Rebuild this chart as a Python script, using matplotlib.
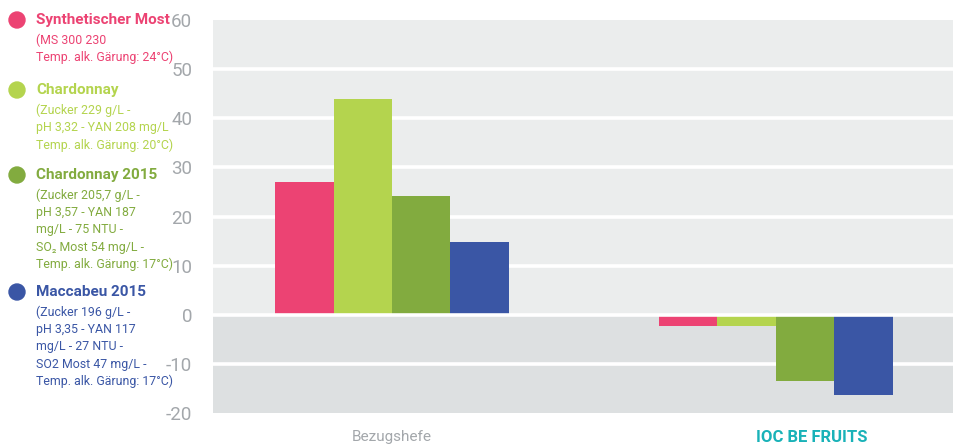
import matplotlib
matplotlib.use("Agg")
import matplotlib.pyplot as plt
import matplotlib.transforms as mtransforms
from matplotlib.patches import Ellipse
import numpy as np
from matplotlib.font_manager import fontManager

names = {f.name for f in fontManager.ttflist}
narrow = "Liberation Sans Narrow" if "Liberation Sans Narrow" in names else "Roboto"
FAM = [narrow, "DejaVu Sans"]

categories = ["Bezugshefe", "IOC BE FRUITS"]
series_names = ["Synthetischer Most", "Chardonnay", "Chardonnay 2015", "Maccabeu 2015"]
series_desc = [
    ["(MS 300 230", "Temp. alk. Gärung: 24°C)"],
    ["(Zucker 229 g/L -", "pH 3,32 - YAN 208 mg/L", "Temp. alk. Gärung: 20°C)"],
    ["(Zucker 205,7 g/L -", "pH 3,57 - YAN 187", "mg/L - 75 NTU -", "SO₂ Most 54 mg/L -", "Temp. alk. Gärung: 17°C)"],
    ["(Zucker 196 g/L -", "pH 3,35 - YAN 117", "mg/L - 27 NTU -", "SO2 Most 47 mg/L -", "Temp. alk. Gärung: 17°C)"],
]
values = [
    [27.1, -2.2],
    [44.0, -2.2],
    [24.2, -13.4],
    [14.9, -16.3],
]
yticks = [60, 50, 40, 30, 20, 10, 0, -10, -20]
colors = ["#ec4373", "#b4d44e", "#82ab3f", "#3a56a5"]

W, H = 954, 444
fig = plt.figure(figsize=(W / 100, H / 100), dpi=100)
fig.patch.set_facecolor("white")
ax = fig.add_axes([213 / W, 1 - 413 / H, (954 - 213) / W, (413 - 20) / H])
ax.set_facecolor("#ebeded")
ax.axhspan(-20, 0, color="#dde0e1", zorder=0, lw=0)
for y in yticks[1:-1]:
    ax.axhline(y, color="white", lw=2.6, zorder=3 if y == 0 else 1)

x = np.arange(len(categories))
bw = 0.152
for i, (vals, c) in enumerate(zip(values, colors)):
    ax.bar(x + (i - 1.5) * bw, vals, bw, color=c, zorder=2, lw=0)

ax.set_xlim(-0.466, 1.464)
ax.set_ylim(-20, 60)
for s in ax.spines.values():
    s.set_visible(False)
ax.set_yticks(yticks)
ax.set_yticklabels([str(v) for v in yticks], fontsize=13.5, color="#a3a7ab", family=FAM)
ax.tick_params(axis="y", length=0, pad=15)
ax.set_xticks(x)
ax.set_xticklabels(categories, fontsize=11, family=FAM)
ax.tick_params(axis="x", length=0, pad=12)
tl = ax.get_xticklabels()
tl[0].set_color("#a3a7ab")
tl[1].set_color("#19b2b8")
tl[1].set_fontweight("bold")
tl[1].set_fontsize(12)
tl[1].set_transform(tl[1].get_transform() + mtransforms.ScaledTranslation(0.36, 0, fig.dpi_scale_trans))

# legend
title_y = [20, 90, 175, 292]
for name, desc, c, ty in zip(series_names, series_desc, colors, title_y):
    fig.patches.append(Ellipse((17 / W, 1 - ty / H), 16 / W, 16 / H, transform=fig.transFigure,
                               color=c, figure=fig))
    fig.text(36 / W, 1 - ty / H, name, color=c, fontsize=11, fontweight="bold",
             va="center", ha="left", family=FAM)
    for j, line in enumerate(desc):
        fig.text(36 / W, 1 - (ty + 20 + 17.4 * j) / H, line, color=c, fontsize=8.9,
                 va="center", ha="left", family=FAM)

fig.savefig("out.png", dpi=100)
